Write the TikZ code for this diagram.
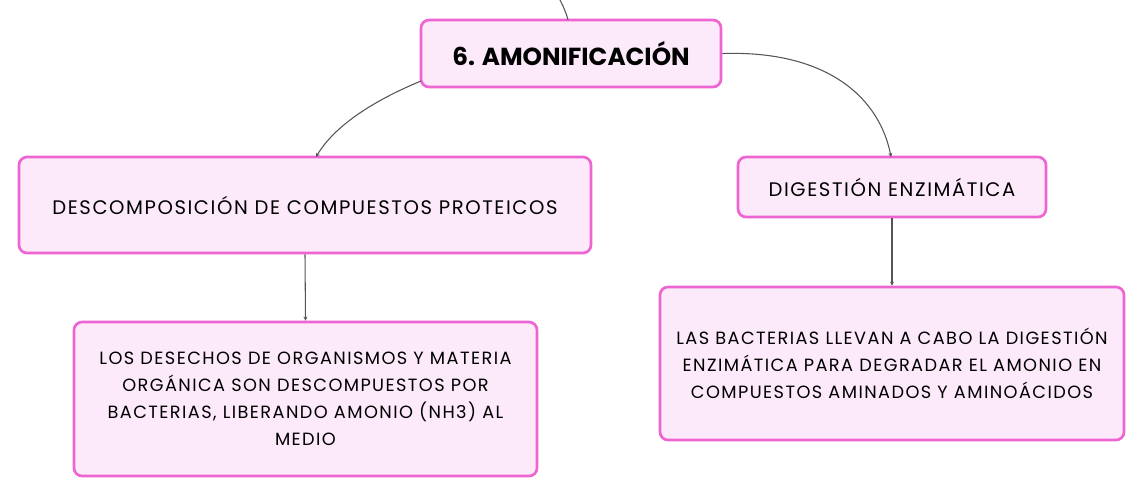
\documentclass[tikz,border=0pt]{standalone}
\usepackage{fontspec}
\setmainfont{Poppins}
\newfontfamily\bodyfont[LetterSpace=8]{Poppins}
\usetikzlibrary{arrows.meta}
\definecolor{bordc}{HTML}{EE64D2}
\definecolor{fillc}{HTML}{FCEAFA}
\definecolor{linec}{HTML}{555555}
\tikzset{
  box/.style={draw=bordc, fill=fillc, line width=2pt, rounded corners=6pt, inner sep=0pt, align=center, text=black},
  midbox/.style={box, font=\bodyfont\fontsize{14.7}{20.25}\selectfont},
  leafbox/.style={box, font=\bodyfont\fontsize{13.3}{20.25}\selectfont},
  conn/.style={draw=linec, line width=0.8pt},
  arr/.style={conn, -{Stealth[length=3pt,width=3pt]}}
}
\begin{document}
\begin{tikzpicture}[x=0.75pt,y=-0.75pt]
\useasboundingbox (0,0) rectangle (1144,497);
\node[box, minimum width=300*0.75pt, minimum height=67*0.75pt, font=\fontsize{18.5}{22}\selectfont\bfseries] (top) at (571,53.5) {6. AMONIFICACIÓN};
\node[midbox, minimum width=572*0.75pt, minimum height=96*0.75pt] (left) at (305,205) {DESCOMPOSICIÓN DE COMPUESTOS PROTEICOS};
\node[midbox, minimum width=308*0.75pt, minimum height=60*0.75pt] (right) at (892,187) {DIGESTIÓN ENZIMÁTICA};
\node[leafbox, minimum width=463*0.75pt, minimum height=154*0.75pt] (lb) at (305.5,399) {LOS DESECHOS DE ORGANISMOS Y MATERIA\\ORGÁNICA SON DESCOMPUESTOS POR\\BACTERIAS, LIBERANDO AMONIO (NH3) AL\\MEDIO};
\node[leafbox, minimum width=464*0.75pt, minimum height=153*0.75pt] (rb) at (892,363.5) {LAS BACTERIAS LLEVAN A CABO LA DIGESTIÓN\\ENZIMÁTICA PARA DEGRADAR EL AMONIO EN\\COMPUESTOS AMINADOS Y AMINOÁCIDOS};
\coordinate (in) at (559,-2);
\coordinate (topin) at (568,20);
\coordinate (topl) at (421,81);
\coordinate (leftin) at (316,157);
\coordinate (rightin) at (891,157);
\draw[conn] (in) .. controls (563,6) and (566,12) .. (topin);
\draw[arr] (topl) .. controls (375,100) and (335,125) .. (leftin);
\draw[arr] (top.east) .. controls (830,50) and (880,100) .. (rightin);
\draw[arr] (left.south) -- (lb.north);
\draw[arr] (right.south) -- (rb.north);
\end{tikzpicture}
\end{document}
